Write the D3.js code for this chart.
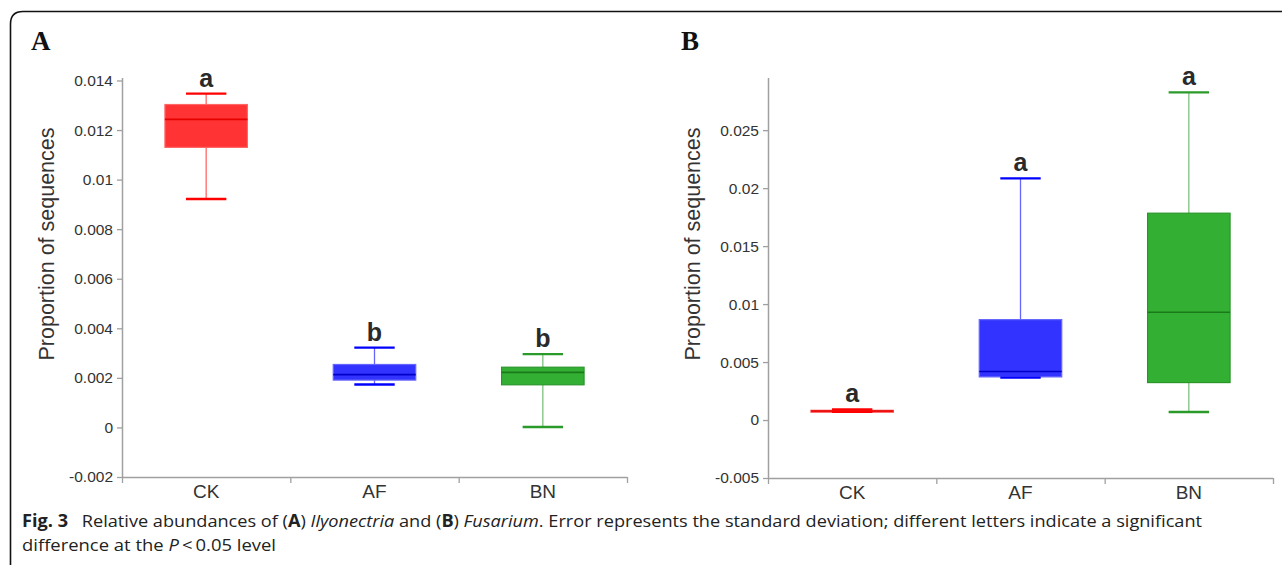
<!DOCTYPE html>
<html><head><meta charset="utf-8">
<script src="https://cdn.jsdelivr.net/npm/d3@7"></script>
<style>body{margin:0;background:#fff}svg{display:block}</style>
</head><body>
<svg id="c" width="1282" height="565"></svg>
<script>
const categories = ["CK", "AF", "BN"];
// Panel A: Ilyonectria  [whiskerLow, Q1, median, Q3, whiskerHigh]
const ilyoWhiskerLow  = [0.00922, 0.00173, 0.00002];
const ilyoQ1          = [0.01130, 0.00191, 0.00172];
const ilyoMedian      = [0.01243, 0.00213, 0.00222];
const ilyoQ3          = [0.01303, 0.00254, 0.00243];
const ilyoWhiskerHigh = [0.01347, 0.00322, 0.00296];
const ilyoLetters     = ["a", "b", "b"];
const ilyoTicks = [-0.002, 0, 0.002, 0.004, 0.006, 0.008, 0.01, 0.012, 0.014];
const ilyoTickLabels = ["-0.002", "0", "0.002", "0.004", "0.006", "0.008", "0.01", "0.012", "0.014"];
// Panel B: Fusarium
const fusWhiskerLow  = [0.00070, 0.00366, 0.00069];
const fusQ1          = [0.00073, 0.00372, 0.00323];
const fusMedian      = [0.00078, 0.00418, 0.00929];
const fusQ3          = [0.00084, 0.00866, 0.01784];
const fusWhiskerHigh = [0.00092, 0.02084, 0.02826];
const fusLetters     = ["a", "a", "a"];
const fusTicks = [-0.005, 0, 0.005, 0.01, 0.015, 0.02, 0.025];
const fusTickLabels = ["-0.005", "0", "0.005", "0.01", "0.015", "0.02", "0.025"];

const colors = {
  CK: {fill: "#ff3333", edge: "#ff6666", med: "#e60000", whisk: "#ff0000"},
  AF: {fill: "#3333ff", edge: "#6666ff", med: "#0000c8", whisk: "#0000ff"},
  BN: {fill: "#33b033", edge: "#2a962a", med: "#1a7a1a", whisk: "#2a9a2a"}
};

const svg = d3.select("#c");
const ink = "#333";
const axisGrey = "#a0a0a0";
const sans = "Liberation Sans, Arial, sans-serif";

// frame
svg.append("path")
  .attr("d", "M10.5,566 L10.5,24 Q10.5,11.5 23,11.5 L1283,11.5")
  .attr("fill", "none").attr("stroke", "#111").attr("stroke-width", 1.6);

function panel(opts) {
  const {x0, x1, yTop, yBot, domain, ticks, tickLabels, lo, q1, med, q3, hi, letters, label, labelX, titleX} = opts;
  const g = svg.append("g");
  const x = d3.scaleBand().domain(categories).range([x0, x1]);
  const y = d3.scaleLinear().domain(domain).range([yBot, yTop]);

  // y axis
  const ya = d3.axisLeft(y).tickValues(ticks).tickFormat((d, i) => tickLabels[i]).tickSize(5).tickSizeOuter(0);
  const yg = g.append("g").attr("transform", `translate(${x0},0)`).call(ya);
  yg.select(".domain").attr("stroke", axisGrey).attr("stroke-width", 1.5).attr("d", `M0.5,${yTop}V${yBot}`);
  yg.selectAll(".tick line").attr("stroke", axisGrey).attr("stroke-width", 1.3);
  yg.selectAll(".tick text").attr("fill", ink).attr("font-family", sans).attr("font-size", 15.5).attr("x", -9);

  // x axis
  const xa = d3.axisBottom(x).tickSize(0);
  const xg = g.append("g").attr("transform", `translate(0,${yBot})`).call(xa);
  xg.select(".domain").attr("stroke", axisGrey).attr("stroke-width", 1.5).attr("d", `M${x0},0.5H${x1}`);
  xg.selectAll(".tick text").attr("fill", ink).attr("font-family", sans).attr("font-size", 19).attr("dy", "0.95em");
  const edges = [x0].concat(categories.map(c => x(c) + x.bandwidth()));
  g.selectAll(".xedge").data(edges).join("line")
    .attr("x1", d => d + 0.5).attr("x2", d => d + 0.5)
    .attr("y1", yBot).attr("y2", yBot + 6)
    .attr("stroke", axisGrey).attr("stroke-width", 1.3);

  // title
  g.append("text").attr("transform", `translate(${titleX},244) rotate(-90)`)
    .attr("text-anchor", "middle").attr("font-family", sans).attr("font-size", 21.5).attr("fill", ink)
    .text("Proportion of sequences");

  // panel label
  svg.append("text").attr("x", labelX).attr("y", 50).attr("font-family", "Liberation Serif, Times New Roman, serif")
    .attr("font-weight", "bold").attr("font-size", 27).attr("fill", "#111").text(label);

  const bw = x.bandwidth() * 0.49;
  const cw = x.bandwidth() * 0.24;
  categories.forEach((c, i) => {
    const cx = x(c) + x.bandwidth() / 2;
    const col = colors[c];
    // whisker lines
    g.append("line").attr("x1", cx).attr("x2", cx).attr("y1", y(hi[i])).attr("y2", y(q3[i]))
      .attr("stroke", col.whisk).attr("stroke-opacity", 0.6).attr("stroke-width", 1.3);
    g.append("line").attr("x1", cx).attr("x2", cx).attr("y1", y(q1[i])).attr("y2", y(lo[i]))
      .attr("stroke", col.whisk).attr("stroke-opacity", 0.6).attr("stroke-width", 1.3);
    // box
    const h = Math.max(y(q1[i]) - y(q3[i]), 2);
    g.append("rect").attr("x", cx - bw / 2).attr("y", y(q3[i])).attr("width", bw).attr("height", h)
      .attr("fill", col.fill).attr("stroke", col.edge).attr("stroke-width", 1.2);
    g.append("line").attr("x1", cx - bw / 2).attr("x2", cx + bw / 2).attr("y1", y(med[i])).attr("y2", y(med[i]))
      .attr("stroke", col.med).attr("stroke-width", 1.6);
    // caps
    [hi[i], lo[i]].forEach(v => {
      g.append("line").attr("x1", cx - cw / 2).attr("x2", cx + cw / 2).attr("y1", y(v)).attr("y2", y(v))
        .attr("stroke", col.whisk).attr("stroke-width", 2.4);
    });
    // letter
    g.append("text").attr("x", cx).attr("y", y(hi[i]) - 7).attr("text-anchor", "middle")
      .attr("font-family", sans).attr("font-weight", "bold").attr("font-size", 25).attr("fill", "#2a2a2a")
      .text(letters[i]);
  });
}

panel({x0: 122, x1: 627, yTop: 78, yBot: 477, domain: [-0.002, 0.0141], ticks: ilyoTicks, tickLabels: ilyoTickLabels,
  lo: ilyoWhiskerLow, q1: ilyoQ1, med: ilyoMedian, q3: ilyoQ3, hi: ilyoWhiskerHigh, letters: ilyoLetters,
  label: "A", labelX: 31, titleX: 54});
panel({x0: 768, x1: 1273, yTop: 78, yBot: 478, domain: [-0.005, 0.0295], ticks: fusTicks, tickLabels: fusTickLabels,
  lo: fusWhiskerLow, q1: fusQ1, med: fusMedian, q3: fusQ3, hi: fusWhiskerHigh, letters: fusLetters,
  label: "B", labelX: 681, titleX: 700});

// caption
const capFont = "Open Sans, Noto Sans, sans-serif";
const l1 = svg.append("text").attr("x", 22).attr("y", 527).attr("font-family", capFont).attr("font-size", 17)
  .attr("fill", "#222").attr("textLength", 1180).attr("lengthAdjust", "spacingAndGlyphs");
l1.append("tspan").attr("font-weight", "bold").text("Fig. 3");
l1.append("tspan").text("\u2002 Relative abundances of (");
l1.append("tspan").attr("font-weight", "bold").text("A");
l1.append("tspan").text(") ");
l1.append("tspan").attr("font-style", "italic").text("Ilyonectria");
l1.append("tspan").text(" and (");
l1.append("tspan").attr("font-weight", "bold").text("B");
l1.append("tspan").text(") ");
l1.append("tspan").attr("font-style", "italic").text("Fusarium");
l1.append("tspan").text(". Error represents the standard deviation; different letters indicate a significant");
const l2 = svg.append("text").attr("x", 22).attr("y", 551).attr("font-family", capFont).attr("font-size", 17)
  .attr("fill", "#222").attr("textLength", 254).attr("lengthAdjust", "spacingAndGlyphs");
l2.append("tspan").text("difference at the ");
l2.append("tspan").attr("font-style", "italic").text("P");
l2.append("tspan").text("\u2009<\u20090.05 level");
</script>
</body></html>
